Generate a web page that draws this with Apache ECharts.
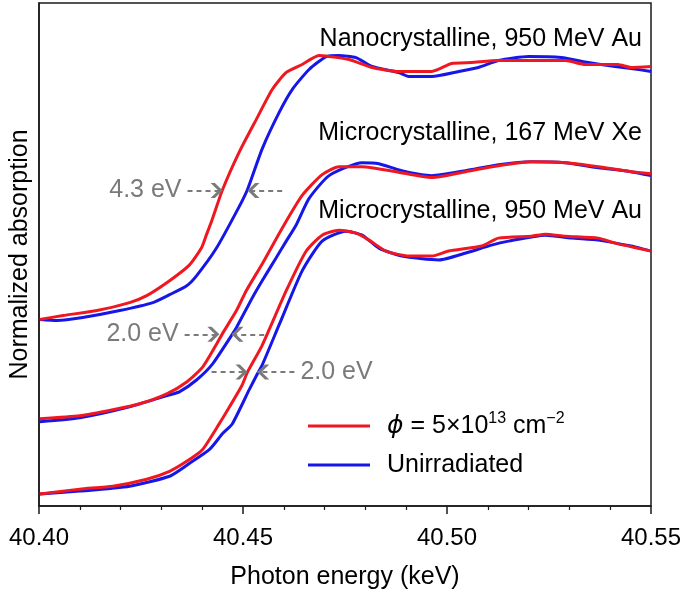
<!DOCTYPE html>
<html>
<head>
<meta charset="utf-8">
<script src="https://cdn.jsdelivr.net/npm/echarts@6/dist/echarts.min.js"></script>
<style>
html,body{margin:0;padding:0;background:#fff;}
#chart{width:685px;height:595px;}
</style>
</head>
<body>
<div id="chart"></div>
<script>
// Energy (keV) vs normalized absorption (arbitrary offset units)
const nanoIrr = [[40.4002,1.88],[40.4059,1.92],[40.4142,1.97],[40.4222,2.05],[40.4264,2.12],[40.4320,2.27],[40.4369,2.43],[40.4398,2.60],[40.4410,2.73],[40.4423,2.87],[40.4450,3.19],[40.4491,3.57],[40.4533,3.90],[40.4572,4.20],[40.4606,4.37],[40.4645,4.45],[40.4686,4.54],[40.4711,4.53],[40.4760,4.50],[40.4816,4.42],[40.4882,4.38],[40.4963,4.38],[40.5011,4.46],[40.5060,4.47],[40.5126,4.49],[40.5207,4.49],[40.5290,4.49],[40.5339,4.45],[40.5419,4.45],[40.5451,4.42],[40.5500,4.43]];
const nanoUnirr = [[40.4002,1.88],[40.4044,1.87],[40.4107,1.90],[40.4198,1.97],[40.4279,2.05],[40.4320,2.13],[40.4362,2.22],[40.4386,2.32],[40.4435,2.60],[40.4491,3.02],[40.4511,3.19],[40.4547,3.60],[40.4589,3.97],[40.4621,4.20],[40.4662,4.40],[40.4704,4.53],[40.4735,4.54],[40.4777,4.52],[40.4816,4.43],[40.4882,4.37],[40.4906,4.33],[40.4963,4.33],[40.5029,4.38],[40.5077,4.42],[40.5126,4.49],[40.5200,4.53],[40.5280,4.52],[40.5346,4.47],[40.5412,4.43],[40.5451,4.41],[40.5500,4.38]];
const xeIrr = [[40.4002,0.88],[40.4100,0.91],[40.4181,0.97],[40.4247,1.03],[40.4313,1.13],[40.4362,1.25],[40.4401,1.40],[40.4435,1.63],[40.4450,1.74],[40.4484,1.97],[40.4508,2.17],[40.4547,2.44],[40.4596,2.80],[40.4645,3.13],[40.4694,3.34],[40.4735,3.42],[40.4792,3.42],[40.4875,3.37],[40.4963,3.31],[40.5046,3.37],[40.5126,3.43],[40.5207,3.47],[40.5290,3.46],[40.5371,3.42],[40.5451,3.37],[40.5500,3.35]];
const xeUnirr = [[40.4002,0.85],[40.4100,0.89],[40.4222,1.00],[40.4320,1.12],[40.4344,1.15],[40.4386,1.27],[40.4425,1.43],[40.4472,1.72],[40.4484,1.80],[40.4523,2.10],[40.4547,2.27],[40.4581,2.50],[40.4606,2.67],[40.4630,2.83],[40.4662,3.10],[40.4711,3.33],[40.4792,3.46],[40.4833,3.45],[40.4889,3.38],[40.4963,3.33],[40.5046,3.38],[40.5126,3.44],[40.5207,3.47],[40.5290,3.46],[40.5371,3.41],[40.5451,3.37],[40.5500,3.33]];
const auIrr = [[40.4002,0.12],[40.4100,0.17],[40.4181,0.20],[40.4264,0.27],[40.4320,0.35],[40.4362,0.45],[40.4401,0.57],[40.4442,0.83],[40.4467,1.00],[40.4498,1.22],[40.4511,1.35],[40.4547,1.62],[40.4606,2.17],[40.4655,2.57],[40.4694,2.73],[40.4735,2.78],[40.4777,2.75],[40.4809,2.68],[40.4850,2.57],[40.4906,2.52],[40.4963,2.52],[40.5004,2.57],[40.5085,2.62],[40.5126,2.70],[40.5207,2.72],[40.5241,2.74],[40.5290,2.72],[40.5371,2.70],[40.5412,2.65],[40.5500,2.57]];
const auUnirr = [[40.4002,0.12],[40.4100,0.15],[40.4222,0.20],[40.4320,0.30],[40.4369,0.43],[40.4418,0.57],[40.4450,0.73],[40.4474,0.83],[40.4515,1.17],[40.4535,1.33],[40.4547,1.42],[40.4589,1.83],[40.4645,2.37],[40.4694,2.67],[40.4752,2.77],[40.4792,2.73],[40.4833,2.60],[40.4889,2.52],[40.4980,2.48],[40.5046,2.55],[40.5109,2.63],[40.5151,2.67],[40.5241,2.73],[40.5305,2.70],[40.5371,2.68],[40.5451,2.62],[40.5500,2.57]];

const xTicks = [40.40, 40.45, 40.50, 40.55];
const curveLabels = ['Nanocrystalline, 950 MeV Au', 'Microcrystalline, 167 MeV Xe', 'Microcrystalline, 950 MeV Au'];
// Edge-shift annotations
const shiftLabels = ['4.3 eV', '2.0 eV', '2.0 eV'];
const shiftY = [3.18, 1.73, 1.35];
const rightArrowFrom = [40.4364, 40.4357, 40.4423];
const rightArrowTo = [40.4450, 40.4442, 40.4511];
const leftArrowFrom = [40.4596, 40.4552, 40.4626];
const leftArrowTo = [40.4511, 40.4472, 40.4535];
const labelOnRightArrow = [true, true, false];

const IRR = 'irradiated';
const UNIRR = 'Unirradiated';
const RED = '#f01820';
const BLUE = '#1616e8';
const GRAY = '#7a7a7a';
const FONT = '"Liberation Sans", Arial, Helvetica, sans-serif';
const chevronRight = 'path://M0,0 L3.6,0 L10,6 L3.6,12 L0,12 L6.4,6 Z';
const chevronLeft = 'path://M10,0 L6.4,0 L0,6 L6.4,12 L10,12 L3.6,6 Z';

const markData = [];
const headData = [];
for (let i = 0; i < shiftLabels.length; i++) {
  markData.push([
    {coord: [rightArrowFrom[i], shiftY[i]], label: {show: labelOnRightArrow[i], formatter: shiftLabels[i]}},
    {coord: [rightArrowTo[i], shiftY[i]]}
  ]);
  markData.push([
    {coord: [leftArrowFrom[i], shiftY[i]], label: {show: !labelOnRightArrow[i], formatter: shiftLabels[i]}},
    {coord: [leftArrowTo[i], shiftY[i]]}
  ]);
  headData.push({coord: [rightArrowTo[i], shiftY[i]], symbol: chevronRight, symbolOffset: [-6, 0]});
  headData.push({coord: [leftArrowTo[i], shiftY[i]], symbol: chevronLeft, symbolOffset: [6, 0]});
}

function mk(name, data, color, extra) {
  return Object.assign({
    type: 'line', name: name, data: data, showSymbol: false, smooth: 0.2,
    lineStyle: {color: color, width: 3}, itemStyle: {color: color},
    silent: true, animation: false
  }, extra || {});
}

const chart = echarts.init(document.getElementById('chart'), null, {renderer: 'canvas'});
chart.setOption({
  backgroundColor: '#fff',
  animation: false,
  textStyle: {fontFamily: FONT},
  grid: {left: 39, right: 34, top: 3, bottom: 85, show: true, borderColor: '#1a1a1a', borderWidth: 1.5, backgroundColor: 'transparent'},
  xAxis: {
    type: 'value', min: 40.40, max: 40.55, interval: 0.05,
    name: 'Photon energy (keV)', nameLocation: 'middle', nameGap: 59,
    nameTextStyle: {fontSize: 25, color: '#000', fontFamily: FONT},
    axisLine: {show: true, lineStyle: {color: '#1a1a1a', width: 1.5}},
    axisTick: {show: true, inside: false, length: 8, lineStyle: {color: '#1a1a1a', width: 1.5}},
    minorTick: {show: true, splitNumber: 5, length: 4, lineStyle: {color: '#1a1a1a', width: 1.2}},
    splitLine: {show: false},
    axisLabel: {fontSize: 24, color: '#000', margin: 20, fontFamily: FONT,
      formatter: v => { const t = xTicks.find(k => Math.abs(k - v) < 1e-6); return t !== undefined ? t.toFixed(2) : ''; }}
  },
  yAxis: {
    type: 'value', min: 0, max: 5.07,
    name: 'Normalized absorption', nameLocation: 'middle', nameGap: 6,
    nameTextStyle: {fontSize: 25, color: '#000', fontFamily: FONT},
    axisLine: {show: true, lineStyle: {color: '#1a1a1a', width: 1.5}},
    axisTick: {show: false}, axisLabel: {show: false}, splitLine: {show: false}
  },
  legend: {
    data: [IRR, UNIRR], orient: 'vertical', left: 308, top: 411, padding: 0,
    icon: 'rect', itemWidth: 62, itemHeight: 3, itemGap: 14,
    selectedMode: false,
    formatter: function (name) {
      return name === IRR ? '{i|ϕ}{n| = 5×10}{sup|13}{n| cm}{sup|−2}' : '{n|Unirradiated}';
    },
    textStyle: {
      padding: [0, 0, 0, 12],
      rich: {
        i: {fontFamily: '"DejaVu Sans", sans-serif', fontStyle: 'italic', fontSize: 25, color: '#000', lineHeight: 30},
        n: {fontFamily: FONT, fontSize: 25, color: '#000', lineHeight: 30},
        sup: {fontFamily: FONT, fontSize: 16, color: '#000', lineHeight: 17, verticalAlign: 'top'}
      }
    }
  },
  graphic: [
    {type: 'text', right: 43, top: 27, style: {text: curveLabels[0], font: '25px ' + FONT, fill: '#000'}},
    {type: 'text', right: 43, top: 121, style: {text: curveLabels[1], font: '25px ' + FONT, fill: '#000'}},
    {type: 'text', right: 43, top: 199, style: {text: curveLabels[2], font: '25px ' + FONT, fill: '#000'}}
  ],
  series: [
    mk(UNIRR, nanoUnirr, BLUE, {
      markLine: {
        silent: true, animation: false,
        symbol: ['none', 'none'],
        lineStyle: {color: GRAY, width: 2.2, type: [5, 4]},
        label: {show: false, position: 'start', distance: 6, fontSize: 25, color: GRAY, fontFamily: FONT},
        emphasis: {disabled: true},
        data: markData
      },
      markPoint: {
        silent: true, animation: false,
        symbolSize: [12, 15],
        itemStyle: {color: GRAY},
        label: {show: false},
        emphasis: {disabled: true},
        data: headData
      }
    }),
    mk(UNIRR, xeUnirr, BLUE),
    mk(UNIRR, auUnirr, BLUE),
    mk(IRR, nanoIrr, RED),
    mk(IRR, xeIrr, RED),
    mk(IRR, auIrr, RED)
  ]
});
</script>
</body>
</html>
